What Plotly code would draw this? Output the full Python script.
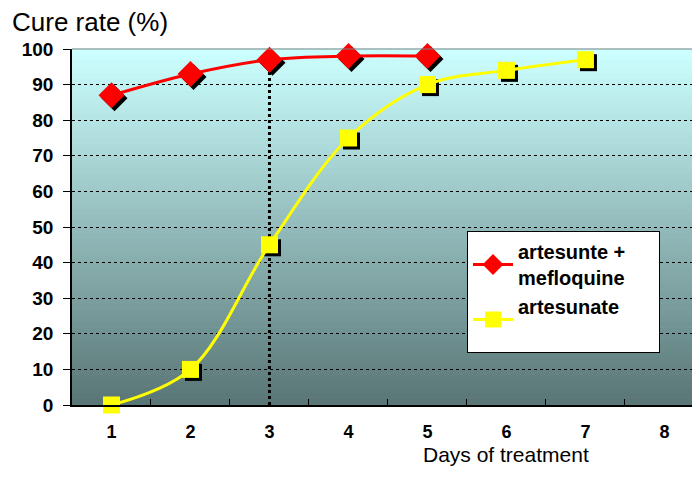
import plotly.graph_objects as go

days = ["1", "2", "3", "4", "5", "6", "7", "8"]
combo_name = "artesunte +\u00a0\u00a0\u00a0\u00a0\u00a0<br>mefloquine"
combo_rate = [87, 93, 97, 98, 98]
mono_name = "artesunate<br> "
mono_rate = [0, 10, 45, 75, 90, 94, 97]
marked_day = "3"
y_ticks = list(range(0, 101, 10))

FONT = "Liberation Sans, Arial, sans-serif"
# the page body adds an 8px margin, so the figure is drawn smaller to avoid scrolling
PAD = 8
W, H = 700 - PAD, 477 - 2 * PAD
L, T = 72 - PAD, 49 - PAD
B = H - (405 - PAD)
plot_w = W - L
plot_h = H - T - B
x_lo, x_hi = -0.5, 7.45
px_x = plot_w / (x_hi - x_lo)
px_y = plot_h / 100.0
shift = 3  # px offset of marker shadows


def px_to_paper(x, y):
    return (x - PAD - L) / plot_w, (H - B - (y - PAD)) / plot_h


fig = go.Figure()

# gradient background, drawn as thin strips behind the gridlines
top_c = (204, 255, 255)
bot_c = (90, 118, 118)
n = 60
for i in range(n):
    f = i / (n - 1)
    c = tuple(round(bot_c[k] + (top_c[k] - bot_c[k]) * f) for k in range(3))
    fig.add_shape(type="rect", xref="x domain", yref="y domain",
                  x0=0, x1=1, y0=i / n, y1=(i + 1) / n + 0.002,
                  fillcolor="rgb(%d,%d,%d)" % c, line_width=0, layer="below")

# dotted drop line at the day of interest
i3 = days.index(marked_day)
fig.add_trace(go.Scatter(x=[marked_day, marked_day], y=[0, combo_rate[i3]],
                         mode="lines", line=dict(color="black", width=3, dash="dot"),
                         showlegend=False, hoverinfo="skip"))

# marker shadows on a slightly shifted overlay axis pair
fig.add_trace(go.Scatter(x=days[:len(mono_rate)], y=mono_rate, mode="markers",
                         marker=dict(symbol="square", size=17, color="black"),
                         xaxis="x2", yaxis="y2", showlegend=False, hoverinfo="skip",
                         cliponaxis=False))
fig.add_trace(go.Scatter(x=days[:len(combo_rate)], y=combo_rate, mode="markers",
                         marker=dict(symbol="diamond", size=20, color="black"),
                         xaxis="x2", yaxis="y2", showlegend=False, hoverinfo="skip",
                         cliponaxis=False))

# the series themselves, on an unshifted overlay above the shadows
fig.add_trace(go.Scatter(x=days[:len(combo_rate)], y=combo_rate, name=combo_name,
                         mode="lines+markers", line=dict(color="#FF0000", width=3, shape="spline"),
                         marker=dict(symbol="diamond", size=20, color="#FF0000"),
                         xaxis="x3", yaxis="y3", cliponaxis=False))
fig.add_trace(go.Scatter(x=days[:len(mono_rate)], y=mono_rate, name=mono_name,
                         mode="lines+markers", line=dict(color="#FFFF00", width=3, shape="spline"),
                         marker=dict(symbol="square", size=17, color="#FFFF00"),
                         xaxis="x3", yaxis="y3", cliponaxis=False))

cat = dict(type="category", categoryorder="array", categoryarray=days)
lx, ly = px_to_paper(467, 231)
ax, ay = px_to_paper(506, 454)

fig.update_layout(
    width=W, height=H,
    margin=dict(l=L, r=0, t=T, b=B),
    paper_bgcolor="white",
    plot_bgcolor="rgb(150,190,190)",
    font=dict(family=FONT, color="black"),
    title=dict(text="Cure rate (%)", x=(12 - PAD) / W, xanchor="left", xref="container",
               y=1 - (22 - PAD) / H, yanchor="middle", yref="container",
               font=dict(size=26, family=FONT, color="black")),
    xaxis=dict(**cat, range=[x_lo, x_hi], tickson="boundaries", ticks="inside", ticklen=6,
               tickcolor="black", showgrid=False, zeroline=False,
               showline=True, linecolor="black", linewidth=1.5,
               tickfont=dict(size=18, family=FONT, weight="bold"),
               ticklabelstandoff=10),
    yaxis=dict(range=[0, 100], tickvals=y_ticks, ticks="outside", ticklen=7,
               tickcolor="black", showgrid=True, gridcolor="black", gridwidth=1,
               griddash="3px,3px", zeroline=False, showline=True, linecolor="black",
               linewidth=1.5, tickfont=dict(size=19, family=FONT, weight="bold"),
               ticklabelstandoff=6),
    xaxis2=dict(**cat, range=[x_lo - shift / px_x, x_hi - shift / px_x],
                overlaying="x", visible=False),
    yaxis2=dict(range=[shift / px_y, 100 + shift / px_y], overlaying="y", visible=False),
    xaxis3=dict(**cat, range=[x_lo, x_hi], overlaying="x", visible=False),
    yaxis3=dict(range=[0, 100], overlaying="y", visible=False),
    legend=dict(x=lx, y=ly, xanchor="left", yanchor="top",
                bgcolor="white", bordercolor="black", borderwidth=1,
                font=dict(size=20, family=FONT, weight="bold"),
                itemwidth=40, tracegroupgap=2),
    annotations=[dict(text="Days of treatment", xref="paper", yref="paper",
                      x=ax, y=ay, xanchor="center", yanchor="middle", showarrow=False,
                      font=dict(size=21, family=FONT))],
    showlegend=True,
)

# thin gray border along the top of the plot area
fig.add_shape(type="line", xref="x domain", yref="y domain", x0=0, x1=1, y0=1, y1=1,
              line=dict(color="#808080", width=1), layer="above")

fig.write_html("out.html")
